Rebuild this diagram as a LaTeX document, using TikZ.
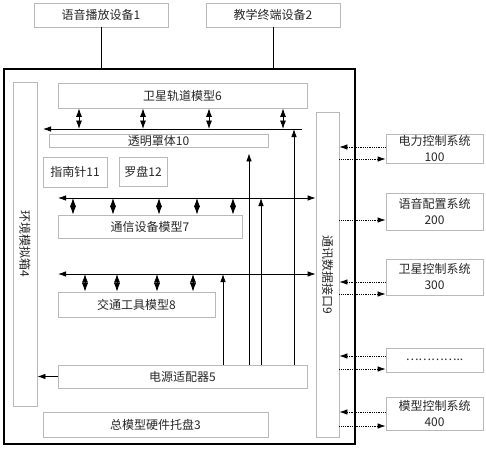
\documentclass[tikz,border=0pt]{standalone}
\usepackage{fontspec}
\usepackage{graphicx}
\usepackage{tikz}
\usetikzlibrary{arrows.meta}
\newfontfamily\cjk{Noto Sans CJK SC}

\begin{document}
\begin{tikzpicture}[x=1pt, y=-1pt,
        font=\cjk\fontsize{12}{16}\selectfont, text=black!85,
        box/.style={draw=gray!55, line width=0.8pt, inner sep=0pt, align=center},
        link/.style={line width=0.8pt},
        conn/.style={line width=0.8pt, -{Latex[length=8pt,width=5.5pt]}},
        both/.style={line width=0.8pt, {Latex[length=8pt,width=5.5pt]}-{Latex[length=8pt,width=5.5pt]}},
        dia/.style={line width=0.8pt, {Latex[length=8.5pt,width=6pt]}-{Latex[length=8.5pt,width=6pt]}},
        dots/.style={line width=0.8pt, densely dotted, -{Latex[length=8pt,width=5.5pt]}}]
    \useasboundingbox (0,0) rectangle (486,450);

    \node[box, minimum width=134pt, minimum height=24pt] (voice) at (101,15) {语音播放设备1};
    \node[box, minimum width=134pt, minimum height=24pt] (teach) at (273,15) {教学终端设备2};
    \node[draw=black, line width=2pt, inner sep=0pt, minimum width=351pt, minimum height=375pt] (frame) at (179.5,256.5) {};

    \node[box, minimum width=24pt, minimum height=324pt] (env) at (25,244) {\rotatebox{-90}{环境模拟箱4}};
    \node[box, minimum width=249pt, minimum height=25pt] (sat) at (182.5,95.5) {卫星轨道模型6};
    \node[box, minimum width=219pt, minimum height=13pt] (cover) at (158.5,140.5) {透明罩体10};
    \node[box, minimum width=64pt, minimum height=30pt] (compass) at (75,172) {指南针11};
    \node[box, minimum width=48pt, minimum height=29pt] (disk) at (143,171.5) {罗盘12};
    \node[box, minimum width=184pt, minimum height=23pt] (comm) at (150,226.5) {通信设备模型7};
    \node[box, minimum width=157pt, minimum height=25pt] (traffic) at (136.5,304.5) {交通工具模型8};
    \node[box, minimum width=249pt, minimum height=23pt] (power) at (182.5,376.5) {电源适配器5};
    \node[box, minimum width=225pt, minimum height=25pt] (tray) at (155.5,424.5) {总模型硬件托盘3};
    \node[box, minimum width=23pt, minimum height=325pt] (iface) at (327.5,274.5) {\rotatebox{-90}{通讯数据接口9}};

    \node[box, minimum width=97pt, minimum height=29pt] (pctrl) at (434.5,148.5) {电力控制系统\\100};
    \node[box, minimum width=97pt, minimum height=37pt] (vconf) at (434.5,211.5) {语音配置系统\\200};
    \node[box, minimum width=97pt, minimum height=36pt] (sctrl) at (434.5,277) {卫星控制系统\\300};
    \node[box, minimum width=97pt, minimum height=24pt] (more) at (434.5,360) {…………..};
    \node[box, minimum width=97pt, minimum height=33pt] (mctrl) at (434.5,413.5) {模型控制系统\\400};

    \coordinate (bus1L) at (43,129);
    \coordinate (bus1R) at (302,129);
    \coordinate (bus2L) at (58,198);
    \coordinate (bus3L) at (58,274);

    \draw[link] (voice.south) -- (voice.south |- frame.north);
    \draw[link] (teach.south) -- (teach.south |- frame.north);

    \draw[conn] (bus1R) -- (bus1L);
    \draw[both] (bus2L) -- (iface.west |- bus2L);
    \draw[both] (bus3L) -- (iface.west |- bus3L);

    \foreach \x in {79,143,209,283}
        \draw[dia] (sat.south -| \x,0) -- (bus1L -| \x,0);
    \foreach \x in {73,113,159,197,233}
        \draw[dia] (bus2L -| \x,0) -- (comm.north -| \x,0);
    \foreach \x in {85,117,157,193}
        \draw[dia] (bus3L -| \x,0) -- (traffic.north -| \x,0);

    \draw[conn] (power.north -| 294,0) -- (bus1R -| 294,0);
    \draw[conn] (power.north -| 261,0) -- (bus2L -| 261,0);
    \draw[conn, shorten >=6pt] (power.north -| 249,0) -- (cover.south -| 249,0);
    \draw[conn] (power.north -| 223,0) -- (bus3L -| 223,0);
    \draw[conn] (power.west) -- (env.east |- power.west);

    \foreach \n/\ya/\yb in {pctrl/147/159, sctrl/282/294, more/356/369, mctrl/412/426} {
        \draw[dots] (\n.west |- 0,\ya) -- (iface.east |- 0,\ya);
        \draw[dots] (iface.east |- 0,\yb) -- (\n.west |- 0,\yb);
    }
    \draw[dots] (iface.east |- 0,220) -- (vconf.west |- 0,220);
\end{tikzpicture}
\end{document}
